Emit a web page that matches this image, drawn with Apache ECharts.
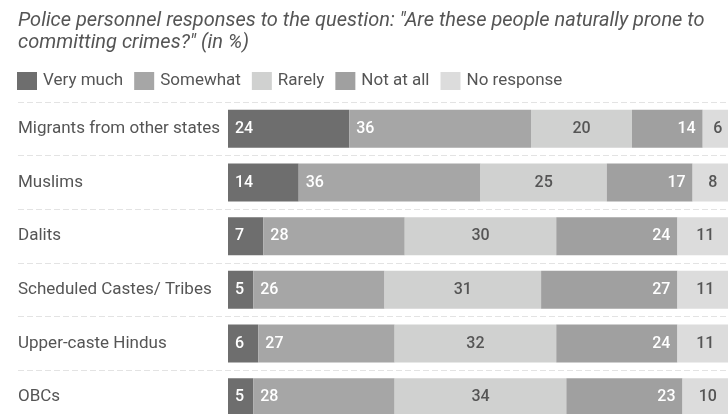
<!DOCTYPE html>
<html>
<head>
  <meta charset="utf-8">
  <title>Police personnel responses</title>
  <script type="text/javascript" src="https://cdn.jsdelivr.net/npm/echarts@6/dist/echarts.min.js"></script>
  <style>
    html,body { margin: 0; padding: 0; background: #fff; }
  </style>
</head>
<body>
  <div id="main" style="width: 728px;height:414px;"></div>
  <script>
    var groups = ['Migrants from other states', 'Muslims', 'Dalits', 'Scheduled Castes/ Tribes', 'Upper-caste Hindus', 'OBCs'];
    var veryMuch = [24, 14, 7, 5, 6, 5];
    var somewhat = [36, 36, 28, 26, 27, 28];
    var rarely = [20, 25, 30, 31, 32, 34];
    var notAtAll = [14, 17, 24, 27, 24, 23];
    var noResponse = [6, 8, 11, 11, 11, 10];

    var chart = echarts.init(document.getElementById('main'));
    var font = 'Roboto, "Noto Sans", sans-serif';

    function seg(name, data, color, pos, labelColor) {
      return {
        name: name,
        type: 'bar',
        stack: 'all',
        barWidth: 38,
        data: data,
        itemStyle: { color: color },
        label: {
          show: true,
          position: pos,
          distance: 7,
          color: labelColor,
          fontSize: 16,
          fontWeight: 500,
          fontFamily: font
        }
      };
    }

    var option = {
      animation: false,
      textStyle: { fontFamily: font },
      title: {
        text: 'Police personnel responses to the question: "Are these people naturally prone to\ncommitting crimes?" (in %)',
        left: 13,
        top: 5,
        textStyle: {
          fontSize: 20,
          fontStyle: 'italic',
          fontWeight: 'normal',
          color: '#555',
          lineHeight: 22
        }
      },
      legend: {
        left: 12,
        top: 67,
        itemWidth: 20,
        itemHeight: 18,
        itemGap: 11,
        icon: 'rect',
        textStyle: { fontSize: 17, color: '#555', padding: [0, 0, 0, 1] },
        data: ['Very much', 'Somewhat', 'Rarely', 'Not at all', 'No response']
      },
      grid: [
        { left: 228, top: 102, width: 505, height: 322, outerBoundsMode: 'none' },
        { left: 18, top: 102, width: 715, height: 322, outerBoundsMode: 'none' }
      ],
      xAxis: [
        { type: 'value', min: 0, max: 100, show: false, gridIndex: 0 },
        { type: 'value', min: 0, max: 100, show: false, gridIndex: 1 }
      ],
      yAxis: [
        {
          type: 'category',
          gridIndex: 0,
          inverse: true,
          data: groups,
          axisLine: { show: false },
          axisTick: { show: false },
          splitLine: { show: false },
          axisLabel: {
            align: 'left',
            margin: 210,
            fontSize: 17,
            color: '#555'
          }
        },
        {
          type: 'category',
          gridIndex: 1,
          inverse: true,
          data: groups,
          axisLine: { show: false },
          axisTick: { show: false },
          axisLabel: { show: false },
          splitLine: { show: true, lineStyle: { color: '#e3e3e3', type: [6, 3], width: 1 } }
        }
      ],
      series: [
        seg('Very much', veryMuch, '#6e6e6e', 'insideLeft', '#fff'),
        seg('Somewhat', somewhat, '#a6a6a6', 'insideLeft', '#fff'),
        seg('Rarely', rarely, '#d0d1d0', 'inside', '#555'),
        seg('Not at all', notAtAll, '#a0a0a0', 'insideRight', '#fff'),
        seg('No response', noResponse, '#dcdcdc', 'inside', '#555')
      ]
    };
    chart.setOption(option);
  </script>
</body>
</html>
